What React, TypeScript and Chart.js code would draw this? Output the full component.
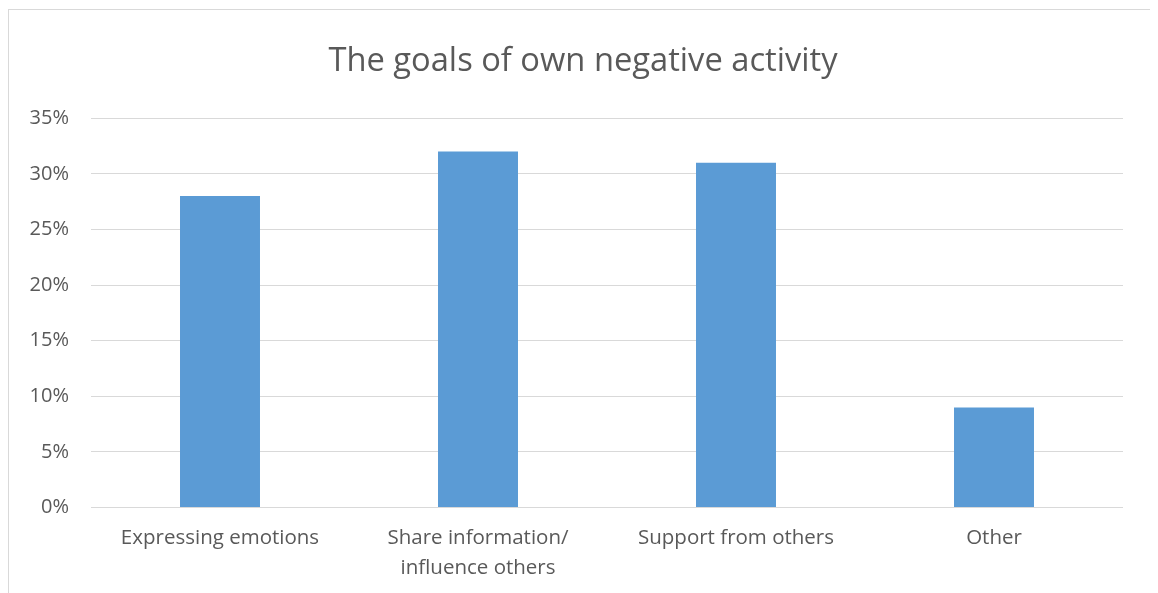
import React, { useEffect, useRef } from "react";
import { Chart, registerables } from "chart.js";

Chart.register(...registerables);

const categories: (string | string[])[] = [
  "Expressing emotions",
  ["Share information/", "influence others"],
  "Support from others",
  "Other",
];
const shares: number[] = [28, 32, 31, 9];
const yTicks: number[] = [0, 5, 10, 15, 20, 25, 30, 35];
const titleText = "The goals of own negative activity";

const FONT = "'Open Sans', 'Liberation Sans', sans-serif";

export default function App() {
  const ref = useRef<HTMLCanvasElement | null>(null);
  useEffect(() => {
    if (!ref.current) return;
    const chart = new Chart(ref.current, {
      type: "bar",
      data: {
        labels: categories,
        datasets: [
          {
            data: shares,
            backgroundColor: "#5B9BD5",
            barPercentage: 0.31,
            categoryPercentage: 1,
          },
        ],
      },
      options: {
        responsive: false,
        animation: false,
        layout: { padding: { left: 0, right: 0, top: 0, bottom: 1 } },
        plugins: {
          legend: { display: false },
          tooltip: { enabled: false },
          title: {
            display: true,
            text: titleText,
            color: "#595959",
            font: { family: FONT, size: 32.7, weight: "normal" },
            padding: { top: 32, bottom: 37 },
          },
        },
        scales: {
          x: {
            grid: { display: false, drawTicks: false },
            border: { display: false },
            ticks: {
              color: "#595959",
              font: { family: FONT, size: 20.5, lineHeight: 1.45 },
              padding: 16,
              maxRotation: 0,
              autoSkip: false,
            },
          },
          y: {
            min: 0,
            max: 35,
            afterBuildTicks: (axis: any) => {
              axis.ticks = yTicks.map((v) => ({ value: v }));
            },
            afterFit: (axis: any) => {
              axis.width = 82;
            },
            grid: { color: "#D9D9D9", lineWidth: 1, drawTicks: false },
            border: { display: false },
            ticks: {
              color: "#595959",
              font: { family: FONT, size: 20 },
              padding: 22,
              callback: (v: any) => v + "%",
            },
          },
          rightSpace: {
            type: "linear",
            position: "right",
            display: true,
            grid: { display: false, drawTicks: false },
            border: { display: false },
            ticks: { display: false },
            afterFit: (axis: any) => {
              axis.width = 34;
            },
          },
        },
      },
    });
    return () => chart.destroy();
  }, []);
  return (
    <div
      style={{
        width: 1148,
        height: 590,
        border: "1px solid #D9D9D9",
        marginTop: 1,
        background: "#fff",
      }}
    >
      <canvas ref={ref} width={1148} height={590} />
    </div>
  );
}
